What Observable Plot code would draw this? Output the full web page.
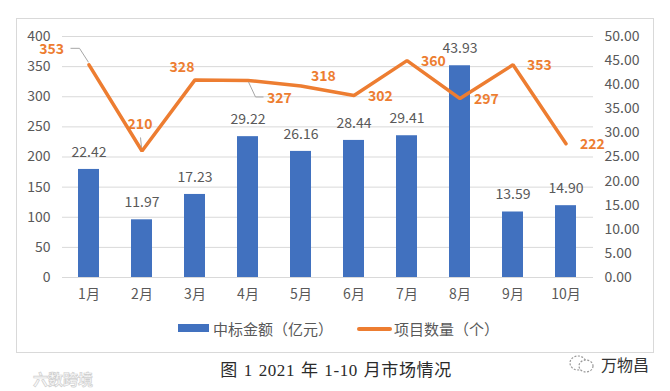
<!DOCTYPE html>
<html>
<head>
<meta charset="utf-8">
<script src="https://cdn.jsdelivr.net/npm/d3@7"></script>
<script src="https://cdn.jsdelivr.net/npm/@observablehq/plot@0.6"></script>
<style>
  html, body { margin: 0; padding: 0; background: #fff; }
  body { width: 670px; height: 391px; position: relative; overflow: hidden;
         font-family: "Noto Sans CJK SC", "Noto Sans", sans-serif; }
  #chart { position: absolute; left: 0; top: 0; }
  #frame { position: absolute; left: 16px; top: 18px; width: 636px; height: 333px;
           border: 1px solid #D9D9D9; z-index: 2; pointer-events: none; }
  .abs { position: absolute; white-space: nowrap; }
  .legtxt { font-size: 15px; color: #595959; line-height: 1; transform: translateY(-50%); }
  #caption { left: 0; width: 672px; text-align: center; top: 368px; transform: translateY(-50%);
             font-family: "Liberation Serif", "Noto Sans CJK SC", serif; font-size: 17px;
             letter-spacing: 0.6px; word-spacing: 1px; color: #2a2a2a; }
</style>
</head>
<body>
<div id="chart"></div>
<div id="frame"></div>
<div id="legend"></div>
<div id="caption" class="abs"></div>
<div class="abs" style="left:33px;top:368px;font-size:15px;color:#fafafa;font-weight:bold;-webkit-text-stroke:0.7px #cfcfcf;">六数跨境</div>
<svg class="abs" style="left:568px;top:353px" width="30" height="22">
  <ellipse cx="10" cy="10" rx="8" ry="7" fill="none" stroke="#9a9a9a" stroke-width="1.2" stroke-dasharray="2 1.5"/>
  <ellipse cx="18" cy="13" rx="7" ry="6" fill="#fff" stroke="#9a9a9a" stroke-width="1.2" stroke-dasharray="2 1.5"/>
</svg>
<div class="abs" style="left:601px;top:364px;transform:translateY(-50%);font-size:16px;color:#333;">万物昌</div>
<script>
// ---- data ----
const months = ["1月", "2月", "3月", "4月", "5月", "6月", "7月", "8月", "9月", "10月"];
const amounts = [22.42, 11.97, 17.23, 29.22, 26.16, 28.44, 29.41, 43.93, 13.59, 14.90]; // 中标金额（亿元）, right axis
const counts = [353, 210, 328, 327, 318, 302, 360, 297, 353, 222];                      // 项目数量（个）, left axis
const leftTicks = [0, 50, 100, 150, 200, 250, 300, 350, 400];
const rightTicks = [0, 5, 10, 15, 20, 25, 30, 35, 40, 45, 50];
const seriesNames = ["中标金额（亿元）", "项目数量（个）"];
const captionText = "图 1 2021 年 1-10 月市场情况";

const RATIO = leftTicks[leftTicks.length - 1] / rightTicks[rightTicks.length - 1];
const data = months.map((m, i) => ({month: m, amount: amounts[i], count: counts[i]}));

const BLUE = "#4171BF", ORANGE = "#ED7D31", GRAY = "#595959", GRID = "#D9D9D9";
const FONT = '"Noto Sans CJK SC", "Noto Sans", sans-serif';

const sub = (ms) => data.filter(d => ms.includes(d.month));
const countLabel = (ms, opts) => Plot.text(sub(ms), {
  x: "month", y: "count", text: d => String(d.count),
  fill: ORANGE, fontWeight: "bold", fontSize: 14, ...opts
});

// leader lines (pixel offsets from each point)
const leaders = [
  {month: "1月", pts: [[0, -2], [-9, -16], [-18, -16]]},
  {month: "2月", pts: [[0, -3], [-1, -13]]},
  {month: "4月", pts: [[1, 2], [8, 17], [16, 17]]}
];
const leaderMark = (index, scales) => {
  const x = scales.x, y = scales.y;
  const half = typeof x.bandwidth === "function" ? x.bandwidth() / 2 : 0;
  const g = d3.create("svg:g").attr("fill", "none").attr("stroke", "#A6A6A6").attr("stroke-width", 1);
  for (const l of leaders) {
    const d = data.find(e => e.month === l.month);
    const px = x(d.month) + half, py = y(d.count);
    g.append("path").attr("d", "M" + l.pts.map(([a, b]) => (px + a) + "," + (py + b)).join("L"));
  }
  return g.node();
};

const chart = Plot.plot({
  width: 670, height: 310,
  marginLeft: 62, marginRight: 77, marginTop: 36, marginBottom: 33,
  style: {fontFamily: FONT, fontSize: "14px", color: GRAY, background: "transparent"},
  x: {domain: months, paddingInner: 0.6, paddingOuter: 0.3, label: null},
  y: {domain: [leftTicks[0], leftTicks[leftTicks.length - 1]], label: null},
  marks: [
    Plot.ruleY(leftTicks, {stroke: GRID, strokeWidth: 1}),
    Plot.axisY({anchor: "left", ticks: leftTicks, tickSize: 0, tickPadding: 12, label: null, fill: GRAY}),
    Plot.axisY({anchor: "right", ticks: rightTicks.map(v => v * RATIO), tickFormat: v => (v / RATIO).toFixed(2),
                tickSize: 0, tickPadding: 11, label: null, fill: GRAY}),
    Plot.axisX({tickSize: 0, tickPadding: 12, label: null, fill: GRAY}),
    Plot.barY(data, {x: "month", y: d => d.amount * RATIO, fill: BLUE}),
    Plot.text(data, {x: "month", y: d => d.amount * RATIO, text: d => d.amount.toFixed(2), dy: -17, fill: GRAY, fontSize: 14}),
    Plot.lineY(data, {x: "month", y: "count", stroke: ORANGE, strokeWidth: 3.5, strokeLinejoin: "miter"}),
    leaderMark,
    countLabel(["1月"], {dx: -25, dy: -15, textAnchor: "end"}),
    countLabel(["2月"], {dx: -2, dy: -26}),
    countLabel(["3月"], {dx: -13, dy: -12}),
    countLabel(["4月"], {dx: 19, dy: 18, textAnchor: "start"}),
    countLabel(["5月"], {dx: 10, dy: -9, textAnchor: "start"}),
    countLabel(["6月", "7月", "8月", "9月", "10月"], {dx: 14, dy: 1, textAnchor: "start"})
  ]
});
document.getElementById("chart").appendChild(chart);

// legend
const legend = document.getElementById("legend");
legend.innerHTML =
  `<div class="abs" style="left:178px;top:324px;width:31px;height:8px;background:${BLUE}"></div>` +
  `<div class="abs legtxt" style="left:213px;top:328px">${seriesNames[0]}</div>` +
  `<div class="abs" style="left:357px;top:327px;width:35px;height:4px;background:${ORANGE};border-radius:2px"></div>` +
  `<div class="abs legtxt" style="left:394px;top:328px">${seriesNames[1]}</div>`;
document.getElementById("caption").textContent = captionText;
</script>
</body>
</html>
